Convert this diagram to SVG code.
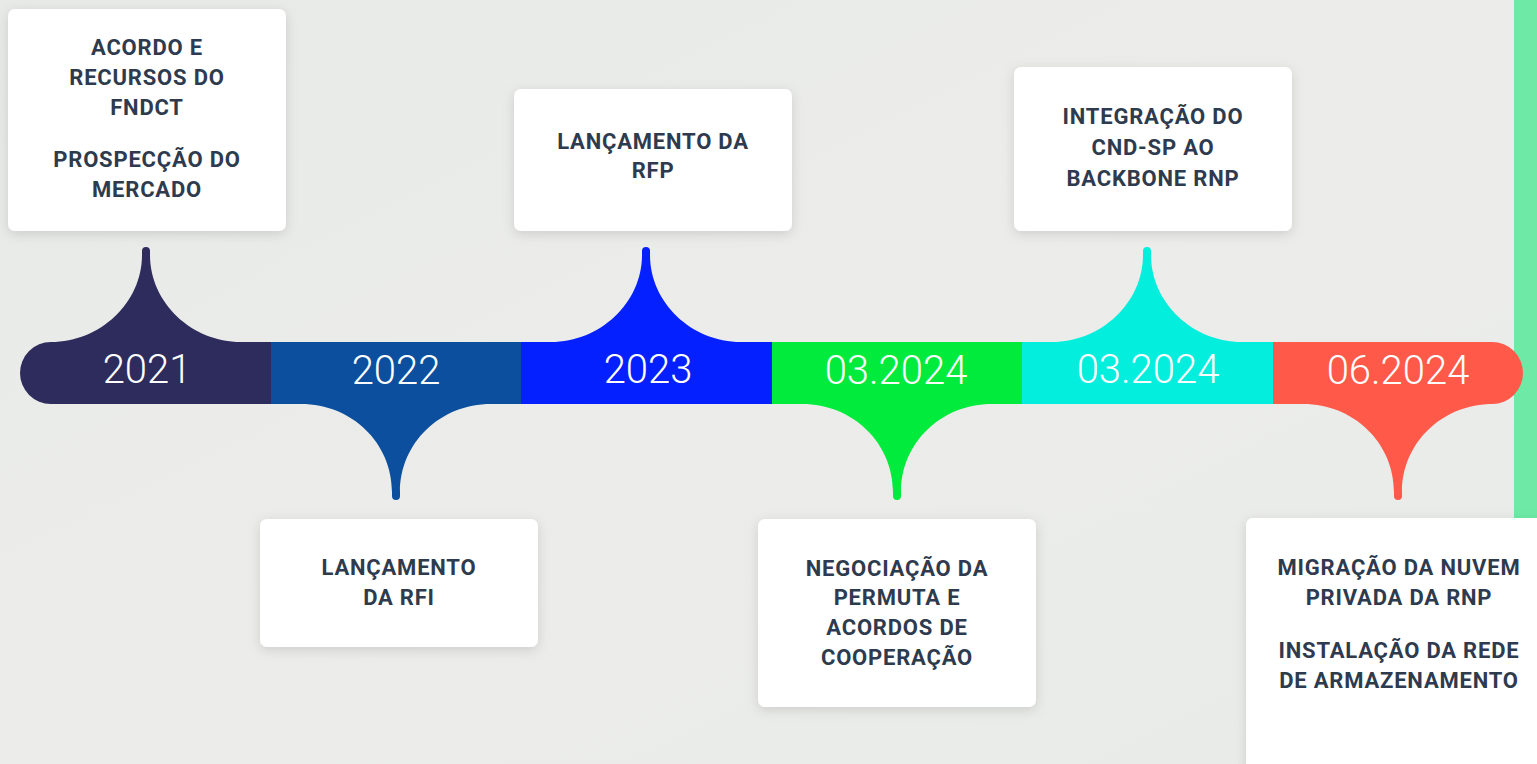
<svg xmlns="http://www.w3.org/2000/svg" width="1537" height="764" viewBox="0 0 1537 764">
<defs>
<filter id="sh" x="-20%" y="-20%" width="140%" height="140%">
<feDropShadow dx="0" dy="3" stdDeviation="6" flood-color="#000" flood-opacity="0.13"/>
</filter>
<linearGradient id="bg" x1="0" y1="0" x2="1" y2="1">
<stop offset="0" stop-color="#E8EAE7"/>
<stop offset="0.5" stop-color="#ECEDEA"/>
<stop offset="1" stop-color="#E9EBE8"/>
</linearGradient>
</defs>
<style>
.box{fill:#FFFFFF;filter:url(#sh)}
.t{font-family:Roboto,"Liberation Sans",sans-serif;font-weight:700;font-size:22px;letter-spacing:0.8px;fill:#2E3B4E;text-anchor:middle}
.y{font-family:Roboto,"Liberation Sans",sans-serif;font-weight:300;font-size:40px;fill:#FFFFFF;text-anchor:middle}
</style>
<rect x="0" y="0" width="1537" height="764" fill="url(#bg)"/>
<rect x="1514" y="0" width="23" height="764" fill="#6EEAA6"/>

<g id="timeline">
<g id="seg2021">
<path d="M51 342 H271 V404 H51 A31 31 0 0 1 51 342 Z" fill="#2D2C5C"/>
<path d="M51 342 C100 342 142 303 142 255 L142 251 A4 4 0 0 1 150 251 L150 255 C150 303 192 342 241 342 Z" fill="#2D2C5C"/>
<text class="y" x="147" y="383">2021</text>
</g>
<g id="seg2022">
<rect x="271" y="342" width="251" height="62" fill="#0B4F9E"/>
<path d="M301 404 C352 404 392 443 392 492 L392 496 A4 4 0 0 0 400 496 L400 492 C400 443 440 404 491 404 Z" fill="#0B4F9E"/>
<text class="y" x="396" y="384">2022</text>
</g>
<g id="seg2023">
<rect x="521" y="342" width="252" height="62" fill="#0520FF"/>
<path d="M551 342 C600 342 642 303 642 255 L642 251 A4 4 0 0 1 650 251 L650 255 C650 303 692 342 741 342 Z" fill="#0520FF"/>
<text class="y" x="648" y="383">2023</text>
</g>
<g id="seg032024a">
<rect x="772" y="342" width="251" height="62" fill="#00EB3C"/>
<path d="M802 404 C853 404 893 443 893 492 L893 496 A4 4 0 0 0 901 496 L901 492 C901 443 941 404 992 404 Z" fill="#00EB3C"/>
<text class="y" x="896" y="384">03.2024</text>
</g>
<g id="seg032024b">
<rect x="1022" y="342" width="252" height="62" fill="#03EEDD"/>
<path d="M1052 342 C1101 342 1143 303 1143 255 L1143 251 A4 4 0 0 1 1151 251 L1151 255 C1151 303 1193 342 1242 342 Z" fill="#03EEDD"/>
<text class="y" x="1148" y="383">03.2024</text>
</g>
<g id="seg062024">
<path d="M1273 342 H1492 A31 31 0 0 1 1492 404 H1273 Z" fill="#FF594A"/>
<path d="M1303 404 C1354 404 1394 443 1394 492 L1394 496 A4 4 0 0 0 1402 496 L1402 492 C1402 443 1442 404 1493 404 Z" fill="#FF594A"/>
<text class="y" x="1398" y="384">06.2024</text>
</g>
</g>

<g id="connectors"></g>

<g id="box2021">
<rect class="box" x="8" y="9" width="278" height="222" rx="7"/>
<text class="t" x="147" y="55">ACORDO E</text>
<text class="t" x="147" y="85">RECURSOS DO</text>
<text class="t" x="147" y="115">FNDCT</text>
<text class="t" x="147" y="167">PROSPECÇÃO DO</text>
<text class="t" x="147" y="197">MERCADO</text>
</g>
<g id="box2022">
<rect class="box" x="260" y="519" width="278" height="128" rx="7"/>
<text class="t" x="399" y="575">LANÇAMENTO</text>
<text class="t" x="399" y="605">DA RFI</text>
</g>
<g id="box2023">
<rect class="box" x="514" y="89" width="278" height="142" rx="7"/>
<text class="t" x="653" y="149">LANÇAMENTO DA</text>
<text class="t" x="653" y="178">RFP</text>
</g>
<g id="box032024a">
<rect class="box" x="758" y="519" width="278" height="188" rx="7"/>
<text class="t" x="897" y="576">NEGOCIAÇÃO DA</text>
<text class="t" x="897" y="605">PERMUTA E</text>
<text class="t" x="897" y="635">ACORDOS DE</text>
<text class="t" x="897" y="665">COOPERAÇÃO</text>
</g>
<g id="box032024b">
<rect class="box" x="1014" y="67" width="278" height="164" rx="7"/>
<text class="t" x="1153" y="124">INTEGRAÇÃO DO</text>
<text class="t" x="1153" y="155">CND-SP AO</text>
<text class="t" x="1153" y="186">BACKBONE RNP</text>
</g>
<g id="box062024">
<rect class="box" x="1246" y="518" width="300" height="260" rx="7"/>
<text class="t" x="1399" y="575">MIGRAÇÃO DA NUVEM</text>
<text class="t" x="1399" y="605">PRIVADA DA RNP</text>
<text class="t" x="1399" y="658">INSTALAÇÃO DA REDE</text>
<text class="t" x="1399" y="688">DE ARMAZENAMENTO</text>
</g>
</svg>
